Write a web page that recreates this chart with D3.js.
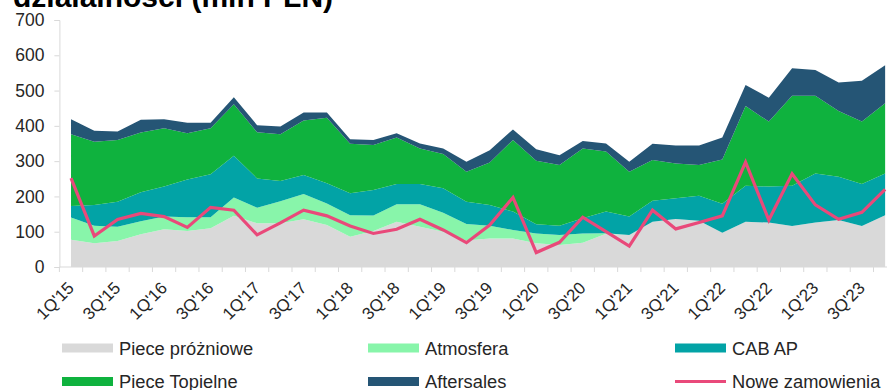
<!DOCTYPE html>
<html><head><meta charset="utf-8">
<script src="https://cdn.jsdelivr.net/npm/d3@7"></script>
<style>
html,body{margin:0;padding:0;background:#fff;}
svg{display:block;font-family:"Liberation Sans",Arial,sans-serif;}
</style></head>
<body><svg id="c" width="887" height="390"></svg>
<script>
const quarters = ["1Q'15","2Q'15","3Q'15","4Q'15","1Q'16","2Q'16","3Q'16","4Q'16","1Q'17","2Q'17","3Q'17","4Q'17",
  "1Q'18","2Q'18","3Q'18","4Q'18","1Q'19","2Q'19","3Q'19","4Q'19","1Q'20","2Q'20","3Q'20","4Q'20",
  "1Q'21","2Q'21","3Q'21","4Q'21","1Q'22","2Q'22","3Q'22","4Q'22","1Q'23","2Q'23","3Q'23","4Q'23"];
const tickLabels = ["1Q'15","3Q'15","1Q'16","3Q'16","1Q'17","3Q'17","1Q'18","3Q'18","1Q'19","3Q'19","1Q'20","3Q'20","1Q'21","3Q'21","1Q'22","3Q'22","1Q'23","3Q'23"];
const yTicks = [0,100,200,300,400,500,600,700];

const pieceProzniowe = [77,67,74,93,107,102,110,145,124,124,135,119,86,102,128,114,100,75,81,81,67,62,69,94,91,128,136,131,97,128,126,116,126,133,116,147];
const atmosfera      = [63,50,40,37,36,39,31,52,44,62,72,61,61,44,50,64,54,47,36,24,28,29,26,2,0,0,0,0,0,0,0,0,0,0,0,0];
const cabAP          = [33,59,71,82,85,107,122,118,83,58,54,57,62,72,57,57,69,63,59,52,26,26,43,61,52,60,59,71,82,102,102,114,139,123,119,118];
const pieceTopielne  = [203,179,175,169,165,131,130,146,131,132,154,186,140,128,132,101,97,85,120,203,180,172,198,170,127,115,98,87,126,226,184,255,220,186,177,199];
const aftersales     = [43,31,24,36,26,30,16,20,20,22,23,15,13,14,12,14,16,28,35,30,33,28,21,23,28,46,51,55,62,60,68,78,73,81,116,108];
const noweZamowienia = [252,88,135,152,143,112,169,161,91,125,161,145,116,95,107,135,105,69,119,197,41,70,141,100,59,161,108,126,145,297,133,264,176,135,155,220];

const seriesNames = ["Piece próżniowe","Atmosfera","CAB AP","Piece Topielne","Aftersales"];
const lineName = "Nowe zamowienia";
const colors = {"Piece próżniowe":"#d9d9d9","Atmosfera":"#88f5aa","CAB AP":"#02a3a6","Piece Topielne":"#0fb23e","Aftersales":"#255575","Nowe zamowienia":"#e9497a"};

const table = quarters.map((q,i)=>({q,
  "Piece próżniowe":pieceProzniowe[i],"Atmosfera":atmosfera[i],"CAB AP":cabAP[i],
  "Piece Topielne":pieceTopielne[i],"Aftersales":aftersales[i]}));

const svg = d3.select("#c");
const x0 = 59.4, step = 23.26;
const x = d3.scaleBand().domain(quarters).range([x0, x0+step*quarters.length]).paddingInner(0).paddingOuter(0);
const cx = q => x(q) + x.bandwidth()/2;
const y = d3.scaleLinear().domain([0,700]).range([267,20]);

// title (partly cut off)
svg.append("text").attr("x",13).attr("y",7).attr("font-size",30).attr("font-weight","bold").attr("fill","#000")
  .text("działalności (mln PLN)");

const stack = d3.stack().keys(seriesNames)(table);
const area = d3.area().x(d=>cx(d.data.q)).y0(d=>y(d[0])).y1(d=>y(d[1]));
svg.append("g").selectAll("path").data(stack).join("path")
  .attr("d",area).attr("fill",d=>colors[d.key]);

// y axis
const yAxis = svg.append("g").attr("transform",`translate(${x0},0)`)
  .call(d3.axisLeft(y).tickValues(yTicks).tickSize(5).tickPadding(10).tickFormat(d3.format("d")));
yAxis.select(".domain").attr("stroke","#d9d9d9");
yAxis.selectAll(".tick line").attr("stroke","#d9d9d9");
yAxis.selectAll("text").attr("font-size",17.5).attr("fill","#262626").attr("font-family","Liberation Sans, Arial, sans-serif");

// x axis
const xg = svg.append("g").attr("transform","translate(0,267)");
xg.append("line").attr("x1",x0).attr("x2",x0+step*quarters.length).attr("stroke","#d9d9d9");
xg.selectAll("line.t").data(quarters.concat(["end"])).join("line").attr("class","t")
  .attr("x1",(d,i)=>x0+step*i).attr("x2",(d,i)=>x0+step*i).attr("y1",0).attr("y2",5).attr("stroke","#d9d9d9");
xg.selectAll("text").data(tickLabels).join("text")
  .attr("transform",d=>`translate(${cx(d)+4},22) rotate(-45)`)
  .attr("text-anchor","end").attr("font-size",17).attr("fill","#262626").text(d=>d);

// line
const line = d3.line().x((d,i)=>cx(quarters[i])).y(d=>y(d));
svg.append("path").datum(noweZamowienia).attr("d",line).attr("fill","none")
  .attr("stroke",colors[lineName]).attr("stroke-width",3.2).attr("stroke-linejoin","miter");

// legend
const legendItems = [
  {name:"Piece próżniowe",col:0,row:0},{name:"Atmosfera",col:1,row:0},{name:"CAB AP",col:2,row:0},
  {name:"Piece Topielne",col:0,row:1},{name:"Aftersales",col:1,row:1},{name:"Nowe zamowienia",col:2,row:1,line:true}];
const colX = [62,368,675], rowY = [348,381.5];
const lg = svg.append("g");
legendItems.forEach(it=>{
  const gx = colX[it.col], gy = rowY[it.row];
  if(it.line){
    lg.append("line").attr("x1",gx).attr("x2",gx+51).attr("y1",gy).attr("y2",gy).attr("stroke",colors[it.name]).attr("stroke-width",3.2);
  } else {
    lg.append("rect").attr("x",gx).attr("y",gy-4.5).attr("width",51).attr("height",9).attr("fill",colors[it.name]);
  }
  lg.append("text").attr("x",gx+57).attr("y",gy+6.5).attr("font-size",18.3).attr("fill","#262626").text(it.name);
});
</script></body></html>
